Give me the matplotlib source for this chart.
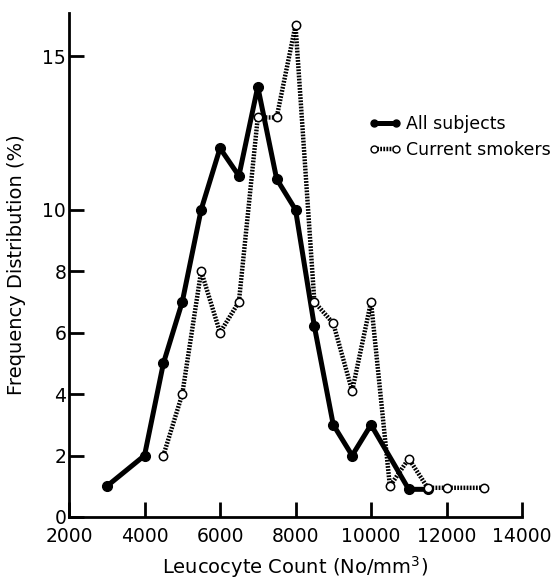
import matplotlib
matplotlib.use("Agg")
import matplotlib.pyplot as plt
from matplotlib.lines import Line2D

# leucocyte count bins (No/mm3) and frequency distribution (%)
all_x = [3000, 4000, 4500, 5000, 5500, 6000, 6500, 7000, 7500, 8000,
         8500, 9000, 9500, 10000, 11000, 11500]
all_y = [1.0, 2.0, 5.0, 7.0, 10.0, 12.0, 11.1, 14.0, 11.0, 10.0,
         6.2, 3.0, 2.0, 3.0, 0.9, 0.9]

smk_x = [4500, 5000, 5500, 6000, 6500, 7000, 7500, 8000, 8500, 9000,
         9500, 10000, 10500, 11000, 11500, 12000, 13000]
smk_y = [2.0, 4.0, 8.0, 6.0, 7.0, 13.0, 13.0, 16.0, 7.0, 6.3,
         4.1, 7.0, 1.0, 1.9, 0.95, 0.95, 0.95]

x_ticks = [2000, 4000, 6000, 8000, 10000, 12000, 14000]
y_ticks = [0, 2, 4, 6, 8, 10, 15]

fig = plt.figure(figsize=(5.58, 5.82), dpi=100)
ax = fig.add_axes([0.1237, 0.1117, 0.8118, 0.866])

ax.plot(all_x, all_y, color="black", lw=3.6, marker="o", ms=7,
        mfc="black", mec="black", zorder=3)
ax.plot(smk_x, smk_y, color="black", lw=3.2, ls=(0, (0.4, 0.3)),
        marker="o", ms=6, mfc="white", mec="black", mew=1.1, zorder=4)

ax.set_xlim(2000, 14000)
ax.set_ylim(0, 16.4)
ax.set_xticks(x_ticks)
ax.set_yticks(y_ticks)
ax.tick_params(axis="both", direction="in", length=11, width=2,
               labelsize=13.5, pad=2)
ax.tick_params(axis="x", pad=7)

for side in ["top", "right"]:
    ax.spines[side].set_visible(False)
for side in ["left", "bottom"]:
    ax.spines[side].set_linewidth(2)

ax.set_xlabel("Leucocyte Count (No/mm$^3$)", fontsize=14, labelpad=6)
ax.set_ylabel("Frequency Distribution (%)", fontsize=14, labelpad=12)

handles = [
    Line2D([], [], color="black", lw=3.6, marker="o", ms=5, mfc="black"),
    Line2D([], [], color="black", lw=3.2, ls=(0, (0.4, 0.3)), marker="o",
           ms=5, mfc="white", mec="black", mew=1.0),
]
ax.legend(handles, ["All subjects", "Current smokers"], frameon=False,
          fontsize=12.5, loc="upper left", bbox_to_anchor=(0.648, 0.815),
          bbox_transform=fig.transFigure, handlelength=1.9, numpoints=2,
          handletextpad=0.25, labelspacing=0.5, borderaxespad=0)

fig.savefig("out.png", dpi=100)
